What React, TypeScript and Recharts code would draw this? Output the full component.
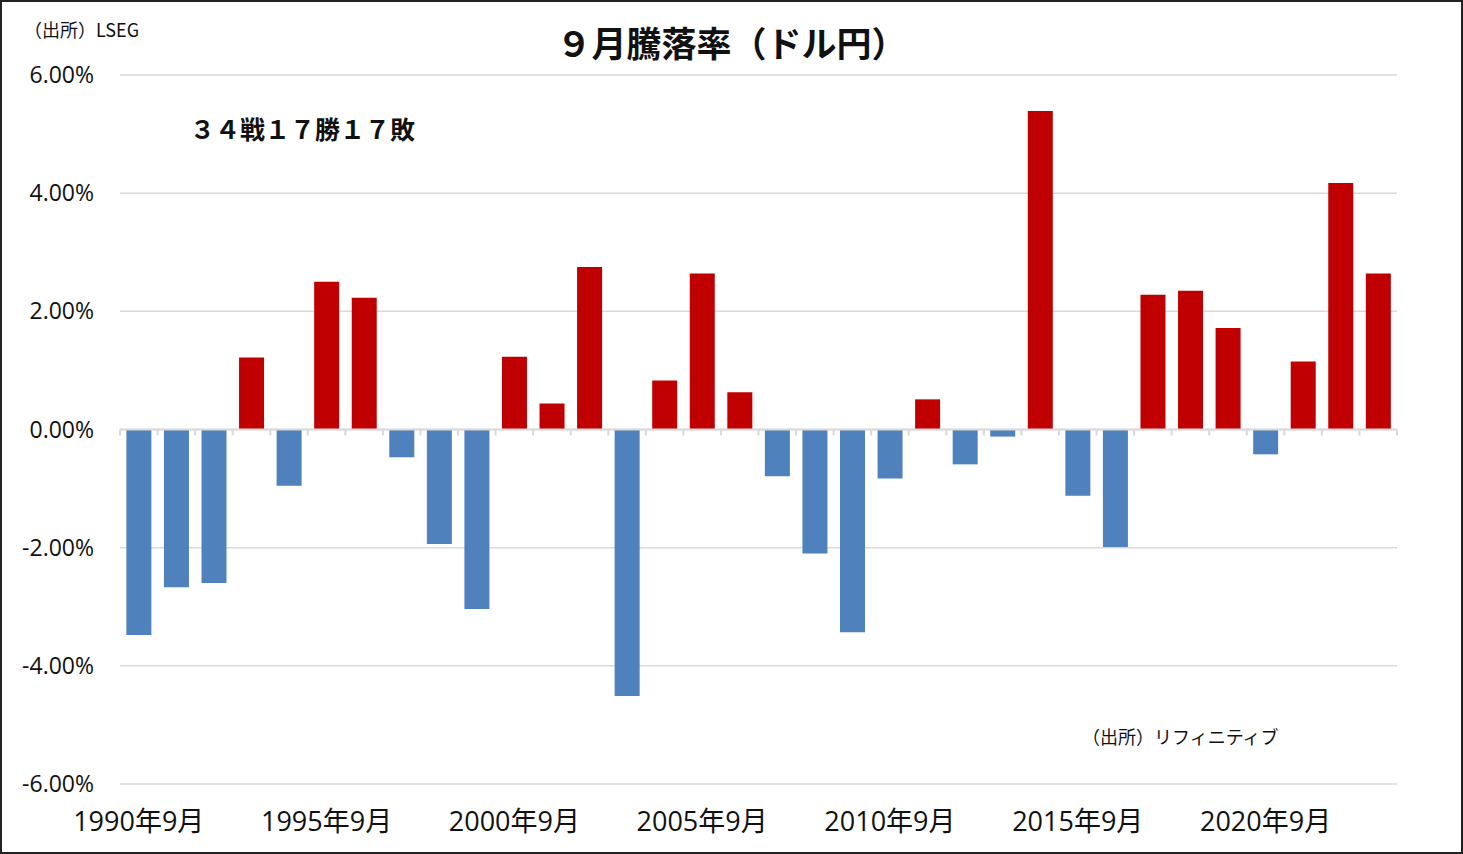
import React from "react";
import {
  BarChart,
  Bar,
  Cell,
  XAxis,
  YAxis,
  CartesianGrid,
  ReferenceLine,
} from "recharts";

const YEARS = [
  1990, 1991, 1992, 1993, 1994, 1995, 1996, 1997, 1998, 1999, 2000, 2001,
  2002, 2003, 2004, 2005, 2006, 2007, 2008, 2009, 2010, 2011, 2012, 2013,
  2014, 2015, 2016, 2017, 2018, 2019, 2020, 2021, 2022, 2023,
];

// September change of USD/JPY, in percent
const CHANGES = [
  -3.48, -2.67, -2.6, 1.22, -0.95, 2.5, 2.23, -0.47, -1.94, -3.04, 1.23, 0.44,
  2.75, -4.51, 0.83, 2.64, 0.63, -0.79, -2.1, -3.43, -0.83, 0.51, -0.59, -0.12,
  5.39, -1.12, -1.99, 2.28, 2.35, 1.72, -0.42, 1.15, 4.17, 2.64,
];

const Y_TICKS = [-6, -4, -2, 0, 2, 4, 6];

const UP = "#C00000";
const DOWN = "#4F81BD";
const GRID = "#D9D9D9";
const FONT = "'Open Sans', 'Noto Sans CJK JP', sans-serif";
const JP_FONT = "'Noto Sans CJK JP', sans-serif";

const data = YEARS.map((y, i) => ({ label: `${y}年9月`, value: CHANGES[i] }));

function ZeroLine(props: any) {
  const { x1, x2, y1 } = props;
  const step = (x2 - x1) / YEARS.length;
  const ticks = [];
  for (let i = 0; i <= YEARS.length; i++) {
    const x = x1 + step * i;
    ticks.push(<line key={i} x1={x} x2={x} y1={y1} y2={y1 + 6} stroke={GRID} strokeWidth={2} />);
  }
  return (
    <g>
      <line x1={x1} x2={x2} y1={y1} y2={y1} stroke={GRID} strokeWidth={2} />
      {ticks}
    </g>
  );
}

export default function App() {
  return (
    <div
      style={{
        position: "absolute",
        left: 0,
        top: 0,
        width: 1463,
        height: 854,
        boxSizing: "border-box",
        border: "2px solid #222",
        background: "#fff",
        fontFamily: FONT,
      }}
    >
      <div style={{ position: "absolute", left: 0, top: 0 }}>
        <BarChart
          width={1459}
          height={850}
          data={data}
          margin={{ top: 73, right: 64, bottom: 0, left: 18 }}
          barCategoryGap="17%"
        >
          <CartesianGrid horizontal vertical={false} stroke={GRID} strokeWidth={1.5} />
          <XAxis
            dataKey="label"
            height={68}
            interval={4}
            axisLine={false}
            tickLine={false}
            tickMargin={22}
            tick={{ fill: "#111", fontSize: 27, fontFamily: FONT }}
          />
          <YAxis
            width={100}
            domain={[-6, 6]}
            ticks={Y_TICKS}
            axisLine={false}
            tickLine={false}
            tickMargin={20}
            tickFormatter={(v: number) => `${v.toFixed(2)}%`}
            tick={{ fill: "#111", fontSize: 23, fontFamily: FONT }}
          />
          <ReferenceLine y={0} shape={ZeroLine} />
          <Bar dataKey="value" isAnimationActive={false}>
            {data.map((d, i) => (
              <Cell key={i} fill={d.value >= 0 ? UP : DOWN} />
            ))}
          </Bar>
        </BarChart>
      </div>

      <div style={{ position: "absolute", left: 22, top: 14, fontSize: 18, fontFamily: JP_FONT, color: "#111" }}>
        （出所）LSEG
      </div>
      <div
        style={{
          position: "absolute",
          left: 0,
          width: 1459,
          top: 14,
          textAlign: "center",
          fontSize: 35,
          fontWeight: "bold",
          fontFamily: JP_FONT,
          color: "#111",
        }}
      >
        ９月騰落率（ドル円）
      </div>
      <div
        style={{
          position: "absolute",
          left: 188,
          top: 108,
          fontSize: 25,
          fontWeight: "bold",
          fontFamily: JP_FONT,
          color: "#111",
        }}
      >
        ３４戦１７勝１７敗
      </div>
      <div style={{ position: "absolute", left: 1080, top: 721, fontSize: 18, fontFamily: JP_FONT, color: "#111" }}>
        （出所）リフィニティブ
      </div>
    </div>
  );
}
